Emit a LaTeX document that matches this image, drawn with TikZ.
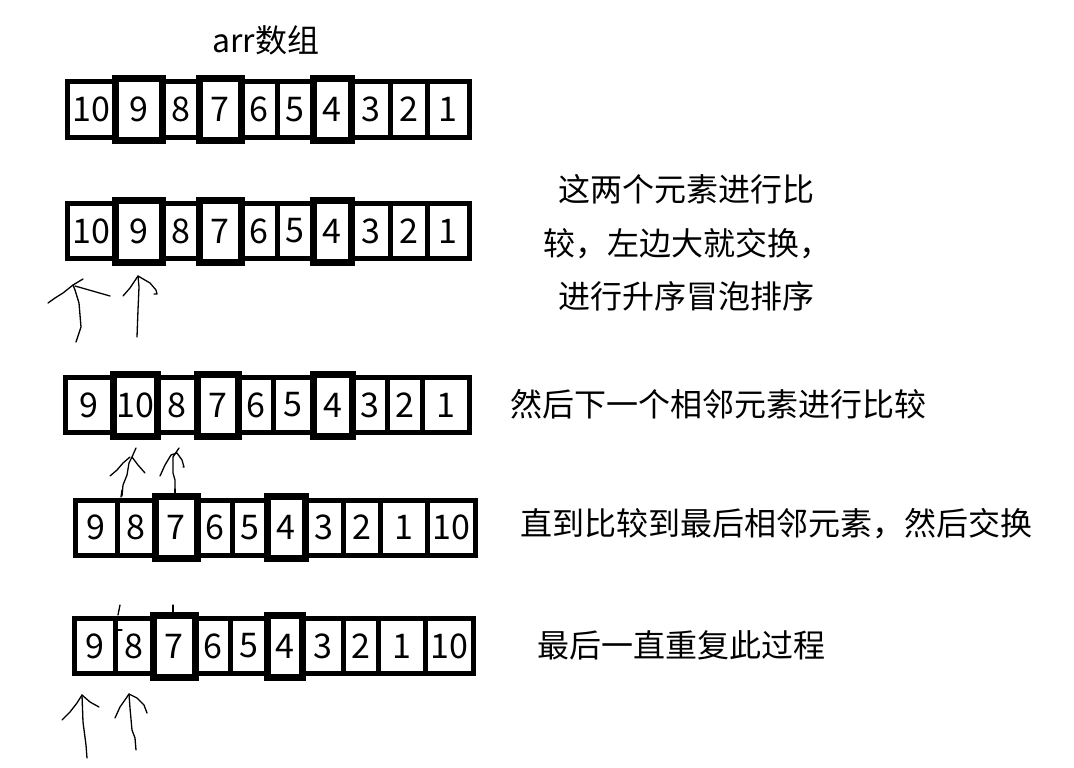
\documentclass[tikz,border=0pt]{standalone}
\usepackage{fontspec}
\newfontfamily\cjk{Noto Sans CJK SC}

\begin{document}
\begin{tikzpicture}[
    x=1pt, y=-1pt,
    cell/.style={rectangle, draw, line width=5pt, inner sep=0pt, minimum height=55pt, font=\cjk\fontsize{34}{40}\selectfont},
    tallcell/.style={cell, line width=7pt, minimum height=62pt},
    note/.style={anchor=west, inner sep=0pt, font=\cjk\fontsize{32}{53.5}\selectfont},
    pen/.style={line width=1.3pt, line join=round, line cap=round}
]
\useasboundingbox (0,0) rectangle (1074,768);

% Rows of the array
\foreach \lab/\xl/\xr/\sty [count=\i] in {10/67/115/cell, 9/115/162/tallcell, 8/162/199/cell, 7/199/241/tallcell, 6/241/277/cell, 5/277/313/cell, 4/313/351/tallcell, 3/351/390/cell, 2/390/427/cell, 1/427/469/cell}
    \node[\sty, minimum width={(\xr-\xl)*1pt}] (r1c\i) at ({(\xl+\xr)/2}, 109.5) {\lab};

\foreach \lab/\xl/\xr/\sty [count=\i] in {10/67/115/cell, 9/115/162/tallcell, 8/162/199/cell, 7/199/241/tallcell, 6/241/277/cell, 5/277/313/cell, 4/313/351/tallcell, 3/351/390/cell, 2/390/427/cell, 1/427/469/cell}
    \node[\sty, minimum width={(\xr-\xl)*1pt}] (r2c\i) at ({(\xl+\xr)/2}, 231) {\lab};

\foreach \lab/\xl/\xr/\sty [count=\i] in {9/65/113/cell, 10/113/157/tallcell, 8/157/197/cell, 7/197/238/tallcell, 6/238/273/cell, 5/273/313/cell, 4/313/352/tallcell, 3/352/387/cell, 2/387/422/cell, 1/422/469/cell}
    \node[\sty, minimum width={(\xr-\xl)*1pt}] (r3c\i) at ({(\xl+\xr)/2}, 405) {\lab};

\foreach \lab/\xl/\xr/\sty [count=\i] in {9/75/117/cell, 8/117/155/cell, 7/155/197/tallcell, 6/197/232/cell, 5/232/267/cell, 4/267/305/tallcell, 3/305/343/cell, 2/343/380/cell, 1/380/427/cell, 10/427/475/cell}
    \node[\sty, minimum width={(\xr-\xl)*1pt}] (r4c\i) at ({(\xl+\xr)/2}, 527.5) {\lab};

\foreach \lab/\xl/\xr/\sty [count=\i] in {9/74/115/cell, 8/115/153/cell, 7/153/195/tallcell, 6/195/230/cell, 5/230/267/cell, 4/267/302/tallcell, 3/302/343/cell, 2/343/378/cell, 1/378/425/cell, 10/425/473/cell}
    \node[\sty, minimum width={(\xr-\xl)*1pt}] (r5c\i) at ({(\xl+\xr)/2}, 646) {\lab};

% Texts
\node[note] (title) at (212, 40) {arr数组};
\node[note, align=left] (step1) at (543, 243) {\hspace*{15pt}这两个元素进行比\\较，左边大就交换，\\\hspace*{15pt}进行升序冒泡排序};
\node[note] (step2) at (510, 404) {然后下一个相邻元素进行比较};
\node[note] (step3) at (520, 524) {直到比较到最后相邻元素，然后交换};
\node[note] (step4) at (537, 645) {最后一直重复此过程};

% Hand drawn arrows
\coordinate (tipA) at (73,285);
\coordinate (tipB) at (138,276);
\coordinate (tipC) at (136,448);
\coordinate (tipD) at (179,448);
\coordinate (tipE) at (82,695);
\coordinate (tipF) at (129,694);

\draw[pen] (76,342) -- (81,327) -- (79,303) -- (75,290) -- (tipA);
\draw[pen] (48,303) -- (55,298) -- (63,293) -- (tipA) -- (83,279);
\draw[pen] (75,286) -- (110,296);

\draw[pen] (137,337) -- (138,310) -- (139,287) -- (tipB);
\draw[pen] (123,296) -- (130,288) -- (tipB) -- (150,283) -- (156,290) -- (157,294) -- (154,294);

\draw[pen] (122,496) -- (123,485) -- (127,475) -- (129,463) -- (132,457) -- (tipC);
\draw[pen] (110,476) -- (117,470) -- (123,463) -- (130,457);
\draw[pen] (132,457) -- (138,465) -- (145,473);

\draw[pen] (175,496) -- (175,480) -- (173,473) -- (173,457) -- (tipD);
\draw[pen] (160,476) -- (165,465) -- (171,455) -- (177,453) -- (182,460) -- (184,467) -- (183,467);

\draw[pen] (87,758) -- (86,745) -- (83,722) -- (tipE);
\draw[pen] (62,720) -- (70,712) -- (77,703) -- (tipE) -- (90,702) -- (99,707);

\draw[pen] (136,750) -- (135,738) -- (132,730) -- (130,708) -- (tipF);
\draw[pen] (115,718) -- (120,707) -- (127,697) -- (tipF) -- (137,698) -- (144,705) -- (147,713);

% small marks above the last rows
\draw[pen] (122,490) -- (121,497);
\draw[pen] (175,489) -- (175,495);
\draw[pen] (120,605) -- (118,615);
\draw[pen] (173,605) -- (173,612);
\draw[pen] (118,630) -- (122,630);

\end{tikzpicture}
\end{document}
